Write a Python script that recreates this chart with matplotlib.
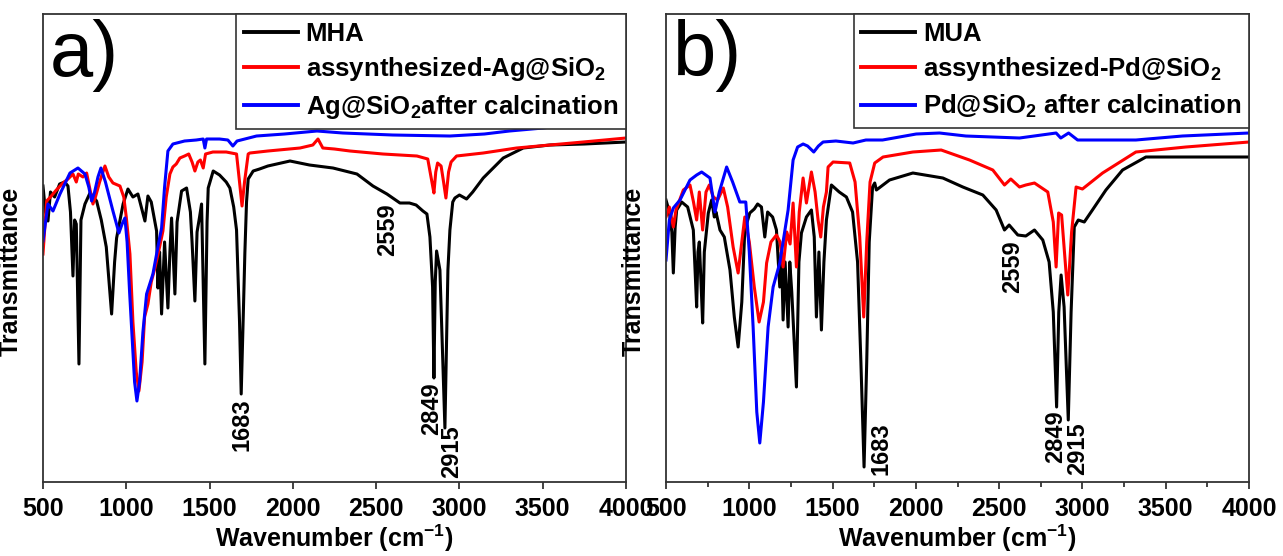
import matplotlib
matplotlib.use("Agg")
import matplotlib.pyplot as plt
from matplotlib.ticker import MultipleLocator

# -----------------------------
# 1. Data (wavenumber in cm-1, transmittance in arbitrary units)
# -----------------------------
mha_wn = [500, 515, 530, 545, 570, 600, 630, 650, 665, 680, 690, 700, 716, 728, 752, 782,
          822, 850, 880, 912, 930, 942, 981, 1010, 1040, 1070, 1112, 1130, 1150, 1182, 1190,
          1200, 1212, 1230, 1250, 1262, 1272, 1292, 1305, 1332, 1362, 1385, 1395, 1412, 1425,
          1440, 1452, 1472, 1485, 1492, 1522, 1560, 1600, 1622, 1645, 1662, 1680, 1690, 1703,
          1712, 1722, 1732, 1762, 1800, 1850, 1983, 2100, 2241, 2385, 2481, 2565, 2643, 2700,
          2740, 2781, 2805, 2823, 2839, 2847, 2855, 2863, 2883, 2913, 2931, 2943, 2960, 2973,
          3000, 3043, 3080, 3143, 3263, 3383, 3543, 3750, 4000]
mha_t = [296, 270, 261, 290, 285, 298, 300, 296, 270, 206, 262, 258, 118, 262, 278, 289,
         281, 262, 235, 168, 220, 244, 278, 293, 285, 288, 261, 286, 280, 251, 194,
         230, 168, 240, 174, 230, 264, 188, 260, 291, 294, 270, 240, 181, 250,
         265, 278, 118, 260, 294, 311, 307, 300, 294, 275, 252, 160, 88, 170,
         229, 280, 303, 311, 313, 316, 321, 317, 314, 308, 296, 288, 279, 279,
         277, 271, 268, 245, 195, 104, 200, 231, 212, 54, 212, 252, 280, 284,
         287, 283, 290, 304, 324, 334, 337, 338, 340]

ag_wn = [500, 522, 545, 580, 620, 650, 680, 700, 712, 740, 762, 785, 800, 815, 840, 872, 895,
         920, 962, 985, 1000, 1022, 1040, 1060, 1076, 1095, 1110, 1130, 1150, 1172, 1200,
         1220, 1240, 1262, 1280, 1300, 1322, 1350, 1375, 1395, 1412, 1430, 1445, 1462, 1476,
         1520, 1600, 1662, 1680, 1695, 1710, 1732, 1742, 1850, 2043, 2120, 2151, 2180, 2250,
         2343, 2541, 2745, 2810, 2835, 2847, 2858, 2869, 2890, 2905, 2919, 2935, 2950, 2983,
         3143, 3343, 3743, 4000]
ag_t = [228, 281, 285, 292, 299, 303, 308, 300, 308, 305, 309, 290, 278, 285, 300, 316, 305,
        299, 296, 285, 265, 228, 160, 110, 91, 120, 165, 178, 200, 214, 235,
        251, 285, 308, 315, 318, 324, 326, 328, 320, 311, 320, 322, 314, 328,
        330, 330, 328, 300, 276, 300, 328, 329, 331, 334, 337, 343, 334, 333,
        331, 328, 326, 323, 300, 289, 310, 319, 316, 300, 284, 310, 320, 326,
        329, 334, 340, 344]

agc_wn = [500, 530, 560, 602, 662, 710, 752, 775, 792, 810, 830, 848, 875, 920, 956, 975, 992,
          1005, 1020, 1032, 1050, 1064, 1080, 1100, 1122, 1160, 1190, 1212, 1230, 1250, 1280,
          1350, 1420, 1462, 1472, 1482, 1560, 1610, 1640, 1665, 1782, 1950, 2145, 2300, 2600,
          2943, 3150, 3300, 3502, 3750, 4000]
agc_t = [241, 278, 271, 288, 309, 314, 308, 295, 281, 290, 305, 314, 300, 271, 249, 258, 264,
         240, 190, 154, 100, 81, 100, 150, 188, 208, 235, 254, 295, 331, 338,
         341, 342, 343, 334, 343, 343, 342, 336, 341, 346, 348, 351, 349, 347,
         346, 348, 351, 354, 360, 365]

mua_wn = [500, 520, 535, 544, 555, 564, 594, 630, 664, 675, 684, 692, 700, 710, 720, 730, 754,
          774, 790, 800, 824, 850, 884, 910, 933, 955, 973, 1003, 1030, 1050, 1073, 1093,
          1110, 1140, 1163, 1183, 1193, 1203, 1215, 1233, 1243, 1255, 1283, 1298, 1313, 1343,
          1373, 1390, 1403, 1418, 1433, 1448, 1463, 1493, 1540, 1583, 1620, 1650, 1670, 1689,
          1705, 1720, 1740, 1753, 1763, 1842, 1982, 2162, 2282, 2402, 2482, 2532, 2560, 2612,
          2660, 2712, 2762, 2800, 2825, 2845, 2858, 2872, 2890, 2915, 2932, 2951, 2975, 3011,
          3060, 3141, 3241, 3381, 3720, 4000]
mua_t = [282, 270, 250, 209, 255, 272, 280, 275, 252, 210, 175, 230, 240, 200, 159, 230, 269,
         282, 265, 270, 252, 245, 212, 165, 135, 180, 252, 269, 273, 278, 275, 245,
         270, 265, 252, 195, 230, 162, 220, 155, 220, 190, 95, 220, 249, 265,
         272, 245, 165, 230, 152, 220, 262, 297, 290, 285, 270, 220, 120, 15,
         120, 240, 295, 299, 292, 302, 309, 304, 295, 287, 272, 252, 257, 247,
         246, 252, 242, 220, 170, 75, 170, 207, 175, 62, 170, 255, 262, 260,
         272, 292, 312, 325, 325, 325]

pd_wn = [500, 520, 544, 560, 604, 644, 665, 684, 700, 720, 740, 760, 784, 810, 844, 870, 903,
         933, 955, 973, 1000, 1030, 1059, 1085, 1104, 1130, 1163, 1185, 1203, 1225, 1245,
         1263, 1283, 1300, 1323, 1343, 1373, 1395, 1413, 1429, 1445, 1463, 1473, 1503, 1603,
         1635, 1663, 1687, 1705, 1725, 1753, 1803, 1982, 2152, 2322, 2462, 2532, 2570, 2622,
         2660, 2712, 2792, 2825, 2842, 2857, 2875, 2912, 2935, 2962, 3000, 3121, 3321, 3621,
         4000]
pd_t = [265, 275, 255, 272, 292, 297, 280, 262, 290, 252, 290, 297, 285, 282, 294, 275, 235,
        209, 240, 265, 240, 195, 160, 180, 219, 240, 247, 240, 215, 250, 238,
        279, 215, 270, 304, 279, 310, 290, 262, 245, 275, 290, 315, 320, 319,
        300, 245, 165, 240, 300, 319, 325, 330, 332, 322, 312, 297, 303, 295,
        297, 299, 290, 260, 215, 269, 267, 187, 250, 295, 293, 309, 330, 335,
        340]

pdc_wn = [500, 520, 544, 584, 644, 684, 714, 764, 794, 820, 864, 900, 943, 979, 1000, 1023,
          1045, 1063, 1085, 1113, 1143, 1183, 1233, 1263, 1290, 1323, 1350, 1387, 1415, 1443,
          1520, 1623, 1700, 1800, 2002, 2142, 2300, 2622, 2842, 2870, 2917, 2971, 3321, 3600,
          4000]
pdc_t = [222, 262, 274, 282, 302, 307, 310, 304, 270, 290, 315, 300, 280, 280, 230, 155,
         70, 39, 80, 155, 195, 219, 272, 322, 335, 338, 336, 330, 336, 340,
         341, 339, 342, 342, 348, 349, 346, 344, 349, 344, 349, 342, 342, 346,
         349]

# peak labels: (text, x position, top of label)
peaks_a = [("1683", 1695, 84), ("2559", 2571, 279), ("2849", 2835, 100), ("2915", 2955, 57)]
peaks_b = [("1683", 1788, 60), ("2559", 2580, 242), ("2849", 2838, 72), ("2915", 2972, 60)]

# -----------------------------
# 2. Style
# -----------------------------
plt.rcParams["font.family"] = ["Liberation Sans", "DejaVu Sans"]
plt.rcParams["mathtext.fontset"] = "custom"
plt.rcParams["mathtext.rm"] = "Liberation Sans:bold"
plt.rcParams["mathtext.bf"] = "Liberation Sans:bold"
plt.rcParams["mathtext.default"] = "bf"

spine_col = "#333333"
lw = 2.2

fig = plt.figure(figsize=(12.83, 5.56), dpi=100)
ax_a = fig.add_axes([0.0335, 0.1331, 0.4544, 0.8417])
ax_b = fig.add_axes([0.5191, 0.1331, 0.4544, 0.8417])

panels = [
    (ax_a, "a)", [(mha_wn, mha_t, "black", "MHA"),
                  (ag_wn, ag_t, "red", r"assynthesized-Ag@SiO$_2$"),
                  (agc_wn, agc_t, "blue", r"Ag@SiO$_2$after calcination")], peaks_a, False),
    (ax_b, "b)", [(mua_wn, mua_t, "black", "MUA"),
                  (pd_wn, pd_t, "red", r"assynthesized-Pd@SiO$_2$"),
                  (pdc_wn, pdc_t, "blue", r"Pd@SiO$_2$ after calcination")], peaks_b, True),
]

# -----------------------------
# 3. Draw both panels
# -----------------------------
for ax, tag, series, peaks, minor in panels:
    for wn, t, col, lab in series:
        ax.plot(wn, t, color=col, lw=lw, label=lab)

    for txt, x, y in peaks:
        ax.text(x, y, txt, rotation=90, ha="center", va="top",
                fontsize=17, fontweight="bold")

    ax.set_xlim(500, 4000)
    ax.set_ylim(0, 468)
    ax.set_yticks([])
    ax.xaxis.set_major_locator(MultipleLocator(500))
    if minor:
        ax.xaxis.set_minor_locator(MultipleLocator(250))
    ax.tick_params(axis="x", which="major", direction="out", length=5, width=1.3,
                   color=spine_col, labelsize=18, pad=6)
    ax.tick_params(axis="x", which="minor", direction="out", length=3.5, width=1.3,
                   color=spine_col)
    for lbl in ax.get_xticklabels():
        lbl.set_fontweight("bold")
    for sp in ax.spines.values():
        sp.set_color(spine_col)
        sp.set_linewidth(1.3)

    ax.set_xlabel(r"Wavenumber (cm$^{-1}$)", fontsize=18, fontweight="bold", labelpad=1)
    ax.set_ylabel("Transmittance", fontsize=18, fontweight="bold")
    ax.yaxis.set_label_coords(-0.035, 0.45)

    ax.text(0.012, 0.99, tag, transform=ax.transAxes, fontsize=56, ha="left", va="top")

    leg = ax.legend(loc="upper right", prop={"size": 18.5, "weight": "bold"},
                    frameon=True, fancybox=False,
                    borderaxespad=0.0, borderpad=0.3, labelspacing=0.38,
                    handlelength=2.1, handletextpad=0.3)
    leg.get_frame().set_edgecolor(spine_col)
    leg.get_frame().set_linewidth(1.2)
    leg.get_frame().set_alpha(1.0)
    for h in leg.get_lines():
        h.set_linewidth(2.8)

fig.savefig("out.png", dpi=100)
